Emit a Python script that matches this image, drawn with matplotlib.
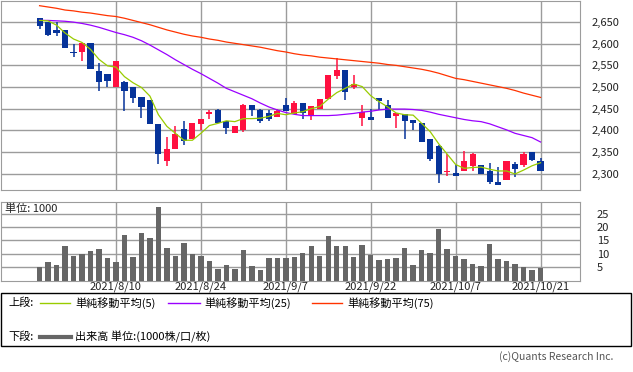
import matplotlib
matplotlib.use('Agg')
import matplotlib.pyplot as plt
from matplotlib.lines import Line2D
from matplotlib.patches import Rectangle
import numpy as np
import pandas as pd

plt.rcParams['font.family'] = ['Noto Sans CJK JP', 'DejaVu Sans']

# 日足 (2021/7/27 - 2021/10/21)
dias = pd.bdate_range('2021-07-27', '2021-10-21', freq='C',
                      holidays=['2021-08-09', '2021-09-20', '2021-09-23'])

apertura = [2660, 2651, 2632, 2632, 2582, 2580, 2601, 2538, 2531, 2501,
            2511, 2499, 2476, 2469, 2414, 2328, 2356, 2403, 2379, 2414,
            2437, 2446, 2421, 2393, 2400, 2459, 2448, 2439, 2430, 2459,
            2438, 2463, 2434, 2450, 2472, 2526, 2539, 2500, 2428, 2430,
            2475, 2459, 2433, 2437, 2424, 2418, 2381, 2363, 2303, 2302,
            2307, 2317, 2319, 2305, 2281, 2286, 2323, 2319, 2349, 2329]
maximo = [2660, 2651, 2651, 2632, 2600, 2601, 2601, 2556, 2531, 2561,
          2515, 2499, 2476, 2469, 2414, 2385, 2411, 2421, 2416, 2427,
          2446, 2450, 2421, 2409, 2460, 2459, 2450, 2446, 2450, 2475,
          2468, 2463, 2457, 2472, 2528, 2568, 2539, 2528, 2459, 2450,
          2475, 2471, 2440, 2437, 2424, 2418, 2381, 2367, 2345, 2320,
          2353, 2347, 2319, 2325, 2315, 2330, 2326, 2349, 2349, 2335]
minimo = [2635, 2617, 2617, 2590, 2570, 2560, 2541, 2491, 2500, 2501,
          2445, 2463, 2429, 2415, 2323, 2318, 2356, 2367, 2379, 2400,
          2427, 2418, 2392, 2393, 2395, 2434, 2417, 2422, 2430, 2444,
          2438, 2425, 2424, 2450, 2472, 2518, 2469, 2496, 2410, 2424,
          2446, 2428, 2405, 2381, 2401, 2373, 2328, 2279, 2295, 2294,
          2307, 2307, 2298, 2276, 2273, 2286, 2292, 2315, 2329, 2307]
cierre = [2640, 2621, 2626, 2590, 2578, 2601, 2541, 2511, 2514, 2561,
          2491, 2475, 2454, 2415, 2346, 2357, 2391, 2376, 2416, 2427,
          2443, 2418, 2405, 2409, 2459, 2446, 2422, 2425, 2444, 2444,
          2463, 2440, 2457, 2472, 2528, 2539, 2488, 2506, 2443, 2424,
          2467, 2428, 2440, 2421, 2417, 2373, 2334, 2298, 2304, 2294,
          2330, 2346, 2300, 2280, 2273, 2330, 2311, 2346, 2332, 2307]

# 単純移動平均
ma5 = [2654, 2653, 2643, 2625, 2611, 2603, 2587, 2564, 2549, 2546,
       2524, 2510, 2499, 2479, 2436, 2409, 2393, 2377, 2377, 2393,
       2411, 2416, 2422, 2420, 2427, 2427, 2428, 2432, 2439, 2436,
       2440, 2443, 2450, 2455, 2472, 2487, 2497, 2507, 2501, 2480,
       2466, 2454, 2440, 2436, 2435, 2416, 2397, 2369, 2345, 2321,
       2312, 2314, 2315, 2310, 2306, 2306, 2299, 2308, 2318, 2325]
ma25 = [2654, 2654, 2653, 2652, 2650, 2647, 2643, 2638, 2632, 2626,
        2621, 2615, 2607, 2597, 2586, 2575, 2563, 2552, 2541, 2531,
        2520, 2509, 2497, 2489, 2481, 2473, 2463, 2454, 2447, 2441,
        2437, 2434, 2434, 2434, 2434, 2435, 2437, 2439, 2442, 2444,
        2447, 2449, 2449, 2449, 2448, 2446, 2442, 2437, 2433, 2429,
        2425, 2422, 2420, 2415, 2408, 2401, 2393, 2388, 2383, 2373]
ma75 = [2688, 2685, 2682, 2678, 2676, 2673, 2671, 2668, 2665, 2663,
        2659, 2654, 2649, 2644, 2638, 2632, 2627, 2622, 2618, 2615,
        2611, 2608, 2604, 2601, 2598, 2595, 2592, 2588, 2584, 2581,
        2577, 2574, 2572, 2569, 2567, 2565, 2563, 2561, 2559, 2557,
        2555, 2552, 2550, 2547, 2544, 2541, 2537, 2532, 2526, 2520,
        2517, 2513, 2509, 2505, 2501, 2497, 2492, 2486, 2481, 2476]

# 出来高 (単位:1000)
volumen = [5.1, 7.0, 5.7, 12.7, 9.0, 9.9, 10.9, 11.6, 8.3, 7.0,
           17.1, 8.7, 17.8, 16.0, 27.4, 12.0, 9.0, 13.9, 9.9, 9.0,
           7.2, 4.3, 5.7, 4.3, 11.2, 5.4, 3.9, 8.3, 8.3, 8.3,
           8.7, 10.1, 12.7, 9.0, 16.7, 12.7, 13.0, 8.7, 13.4, 9.4,
           7.6, 7.9, 8.3, 12.3, 5.7, 11.2, 10.1, 19.3, 11.6, 9.0,
           7.9, 6.1, 5.4, 13.8, 7.9, 7.2, 6.1, 5.0, 3.9, 4.6]

etiquetas = ['2021/8/10', '2021/8/24', '2021/9/7', '2021/9/22', '2021/10/7', '2021/10/21']

W, H = 633, 372
ROJO, AZUL = '#ff1040', '#06339a'
GRIS = '#9c9c9c'

def caja(x0, y0, x1, y1):
    return [x0 / W, 1 - y1 / H, (x1 - x0) / W, (y1 - y0) / H]

fig = plt.figure(figsize=(W / 100, H / 100), dpi=100)
ax = fig.add_axes(caja(0.5, 0.5, 580, 190))
axv = fig.add_axes(caja(0.5, 202, 580, 280.5))

x = np.arange(len(cierre))
o = np.array(apertura, float)
c = np.array(cierre, float)
sube = c >= o
colores = np.where(sube, ROJO, AZUL)

fechas = [f'{d.year}/{d.month}/{d.day}' for d in dias]
pos = [fechas.index(e) for e in etiquetas]

# velas
ax.vlines(x, minimo, maximo, colors=colores, lw=1.1, zorder=3)
alto = np.maximum(np.abs(c - o), 2.5)
ax.bar(x, alto, bottom=np.minimum(o, c), width=0.72, color=colores, zorder=4)

ax.plot(x, ma75, color='#ff3300', lw=0.9, zorder=5)
ax.plot(x, ma25, color='#9a00ff', lw=0.9, zorder=5)
ax.plot(x, ma5, color='#99cc00', lw=0.9, zorder=5)

for a in (ax, axv):
    a.set_xlim(-4.6, 63.65)
    a.set_xticks(pos)
    a.yaxis.tick_right()
    a.tick_params(length=0, labelsize=8, colors='#222222')
    a.grid(color=GRIS, lw=1)
    a.set_axisbelow(True)
    for s in a.spines.values():
        s.set_color(GRIS)

ax.set_ylim(2262, 2700)
ax.set_yticks(range(2300, 2651, 50))
ax.set_yticklabels([f'{v:,}' for v in range(2300, 2651, 50)])
ax.tick_params(axis='y', pad=8)
ax.set_xticklabels([])

axv.bar(x, volumen, width=0.64, color='#666666', zorder=3)
axv.set_ylim(0, 29.3)
axv.set_yticks([5, 10, 15, 20, 25])
axv.tick_params(axis='y', pad=12)
axv.set_xticklabels(etiquetas)
axv.tick_params(axis='x', pad=1)
for t in axv.get_yticklabels():
    t.set_horizontalalignment('left')

fig.text(5 / W, 1 - 209 / H, '単位: 1000', fontsize=8, va='center', color='#222222')

# leyenda
fig.add_artist(Rectangle((0.5 / W, 1 - 346 / H), 630.5 / W, 53 / H, transform=fig.transFigure,
                         fill=False, edgecolor='black', lw=1))
y1, y2 = 1 - 303 / H, 1 - 337 / H
fig.text(8 / W, y1, '上段:', fontsize=8, va='center')
fig.text(8 / W, y2, '下段:', fontsize=8, va='center')
items = [(40, 70, 75, '#99cc00', '単純移動平均(5)'),
         (168, 200, 204, '#9a00ff', '単純移動平均(25)'),
         (312, 342, 347, '#ff3300', '単純移動平均(75)')]
for xa, xb, xt, col, txt in items:
    fig.add_artist(Line2D([xa / W, xb / W], [y1, y1], color=col, lw=1, transform=fig.transFigure))
    fig.text(xt / W, y1, txt, fontsize=8, va='center')
fig.add_artist(Line2D([40 / W, 71 / W], [y2, y2], color='#666666', lw=3, transform=fig.transFigure))
fig.text(75 / W, y2, '出来高 単位:(1000株/口/枚)', fontsize=8, va='center')

fig.text(613 / W, 1 - 357 / H, '(c)Quants Research Inc.', fontsize=7.5, ha='right', va='center',
         color='#555555')

fig.savefig('out.png', dpi=100)
